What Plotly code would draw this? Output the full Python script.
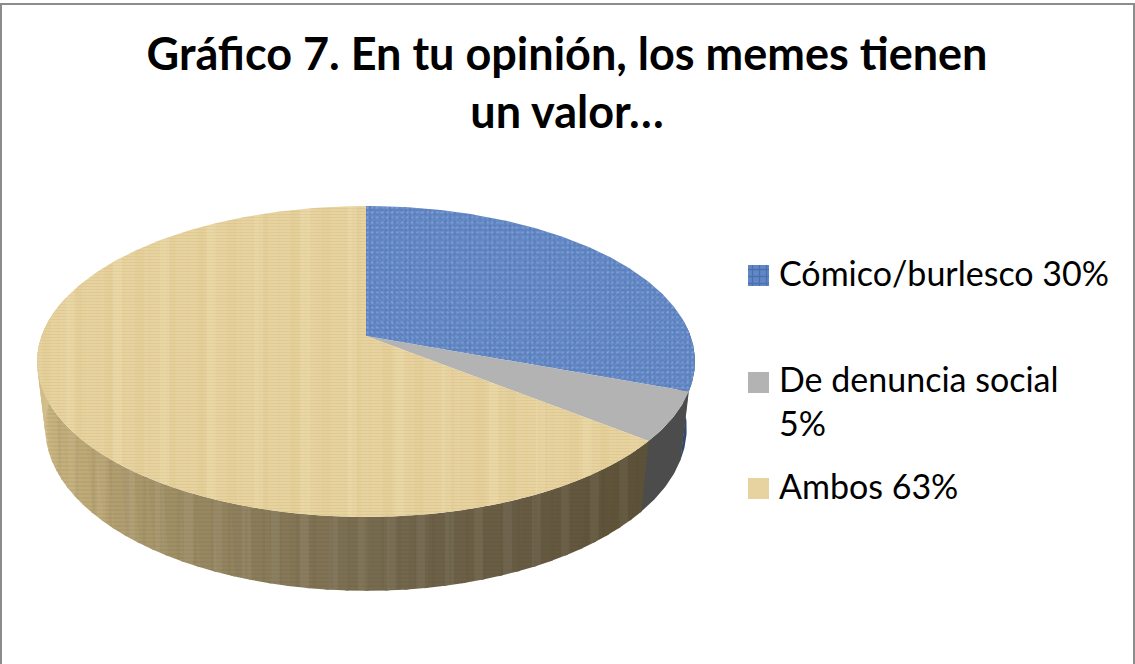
import math
import numpy as np
import plotly.graph_objects as go

# Survey answers as printed in the legend, in percent
categories = ["Cómico/burlesco", "De denuncia social", "Ambos"]
percentages = [30, 5, 63]
legend_labels = ["Cómico/burlesco 30%", "De denuncia social<br>5%", "Ambos 63%"]
title_text = "Gráfico 7. En tu opinión, los memes tienen<br>un valor…"

# Slice and rim colours
top_colors = ["#6187c4", "#b3b3b3", "#e7d39f"]
rim_anchor_angles = [128, 135, 170, 195, 230, 258, 280]
rim_anchor_colors = ["#5d5239", "#5f5339", "#6e6249", "#8a7b5a", "#bda976", "#d0bc86", "#d8c58f"]

WIDTH, HEIGHT = 1135, 664
CX, CY = 366.0, 336.0
RX, RY = 324.5, 151.3
PERSP = 0.164
DEPTH = 65.5
BOTTOM_SCALE = 0.975
FONT = "Lato"
CLEAR = "rgba(0,0,0,0)"


def rim_point(deg, lower=False):
    """Project a rim point of the tilted disc onto the page, with perspective."""
    t = math.radians(deg)
    u, v = math.sin(t), -math.cos(t)
    w = 1 - PERSP * v
    s = BOTTOM_SCALE if lower else 1.0
    h = DEPTH if lower else 0.0
    return CX + s * RX * u / w, CY + (s * RY * v + h) / w


def arc(start, stop, lower=False):
    n = max(2, int(abs(stop - start) * 1.5))
    pts = [rim_point(d, lower) for d in np.linspace(start, stop, n)]
    return [p[0] for p in pts], [p[1] for p in pts]


def hex_rgb(c):
    return [int(c[i:i + 2], 16) for i in (1, 3, 5)]


def rim_color(deg):
    rgb = [np.interp(deg, rim_anchor_angles, [hex_rgb(c)[k] for c in rim_anchor_colors]) for k in range(3)]
    return "rgb(%d,%d,%d)" % tuple(rgb)


fig = go.Figure()


def poly(xs, ys, color, pattern=None, name=None):
    fig.add_trace(go.Scatter(
        x=xs, y=ys, mode="lines", fill="toself", fillcolor=color,
        fillpattern=pattern, line=dict(width=0), hoverinfo="skip",
        showlegend=False, name=name))


def side(start, stop, color, pattern=None):
    xa, ya = arc(start, stop)
    xb, yb = arc(stop, start, lower=True)
    poly(xa + xb + xa[:1], ya + yb + ya[:1], color, pattern)


total = sum(percentages)
edges = np.cumsum([0] + percentages) * 360.0 / total
blue_end, grey_end = edges[1], edges[2]

# Rim of the disc: dark sliver under the blue slice, grey block, shaded wood band
side(84, blue_end + 0.5, "#34486e")
side(blue_end, grey_end + 0.5, "#4c4c4c")
step = 3
for a in np.arange(grey_end, 283, step):
    side(a, a + step + 0.6, rim_color(a + step / 2))
side(grey_end, 283, CLEAR, dict(shape="-", size=4, solidity=0.25, fgcolor="#3a3020", fgopacity=0.13, bgcolor=CLEAR))
side(grey_end, 283, CLEAR, dict(shape="|", size=29, solidity=0.3, fgcolor="#ffffff", fgopacity=0.05, bgcolor=CLEAR))
side(grey_end, 283, CLEAR, dict(shape="|", size=17, solidity=0.2, fgcolor="#3a3020", fgopacity=0.05, bgcolor=CLEAR))

# Top faces, one wedge per answer, drawn from the percentages
canvas_weave = [dict(shape="+", size=4, solidity=0.3, fgcolor="#2f5296", fgopacity=0.32, bgcolor=CLEAR),
                dict(shape="x", size=7, solidity=0.15, fgcolor="#b4caef", fgopacity=0.3, bgcolor=CLEAR),
                dict(shape=".", size=5, solidity=0.2, fgcolor="#9dbbec", fgopacity=0.4, bgcolor=CLEAR)]
wood_grain = [dict(shape="-", size=3, solidity=0.3, fgcolor="#b89a5c", fgopacity=0.18, bgcolor=CLEAR),
              dict(shape="|", size=31, solidity=0.3, fgcolor="#cfb573", fgopacity=0.1, bgcolor=CLEAR),
              dict(shape="|", size=47, solidity=0.2, fgcolor="#f3e5c0", fgopacity=0.18, bgcolor=CLEAR),
              dict(shape="|", size=13, solidity=0.2, fgcolor="#dcc080", fgopacity=0.08, bgcolor=CLEAR)]
face_textures = [canvas_weave, [], wood_grain]
for i, (start, stop) in enumerate(zip(edges[:-1], edges[1:])):
    stop = stop if i < len(percentages) - 1 else 360
    xs, ys = arc(start, stop)
    poly([CX] + xs + [CX], [CY] + ys + [CY], top_colors[i], name=categories[i])
    for texture in face_textures[i]:
        poly([CX] + xs + [CX], [CY] + ys + [CY], CLEAR, texture)

# Legend keys and labels
key_tops = [265, 372, 478]
label_tops = [272, 356, 485]
for i, label in enumerate(legend_labels):
    k = key_tops[i]
    key_x = [748, 769, 769, 748, 748]
    key_y = [k, k, k + 21, k + 21, k]
    poly(key_x, key_y, top_colors[i])
    if i == 0:
        poly(key_x, key_y, CLEAR, dict(shape="+", size=7, solidity=0.35, fgcolor="#2f5296", fgopacity=0.45, bgcolor=CLEAR))
    fig.add_annotation(x=777, y=label_tops[i], xref="x", yref="y", text=label, showarrow=False,
                       xanchor="left", yanchor="middle" if i != 1 else "top", align="left",
                       font=dict(family=FONT, size=34, color="#000000"))

# Chart frame: left, top and right edges
for x0, y0, x1, y1 in [(1, 4, 1, HEIGHT), (0, 4, WIDTH, 4), (1134, 4, 1134, HEIGHT)]:
    fig.add_shape(type="line", x0=x0, y0=y0, x1=x1, y1=y1, xref="x", yref="y",
                  line=dict(color="#8c8c8c", width=2))

fig.update_layout(
    width=WIDTH, height=HEIGHT, margin=dict(l=0, r=0, t=0, b=0),
    paper_bgcolor="#ffffff", plot_bgcolor="#ffffff", showlegend=False,
    title=dict(text="<b>" + title_text.replace("<br>", "</b><br><b>") + "</b>",
               x=0.4996, xanchor="center", y=0.895, yanchor="top",
               font=dict(family=FONT, size=45, color="#000000")),
    xaxis=dict(range=[0, WIDTH], visible=False, fixedrange=True),
    yaxis=dict(range=[HEIGHT, 0], visible=False, fixedrange=True),
)
fig.write_html("out.html", config=dict(displayModeBar=False))
